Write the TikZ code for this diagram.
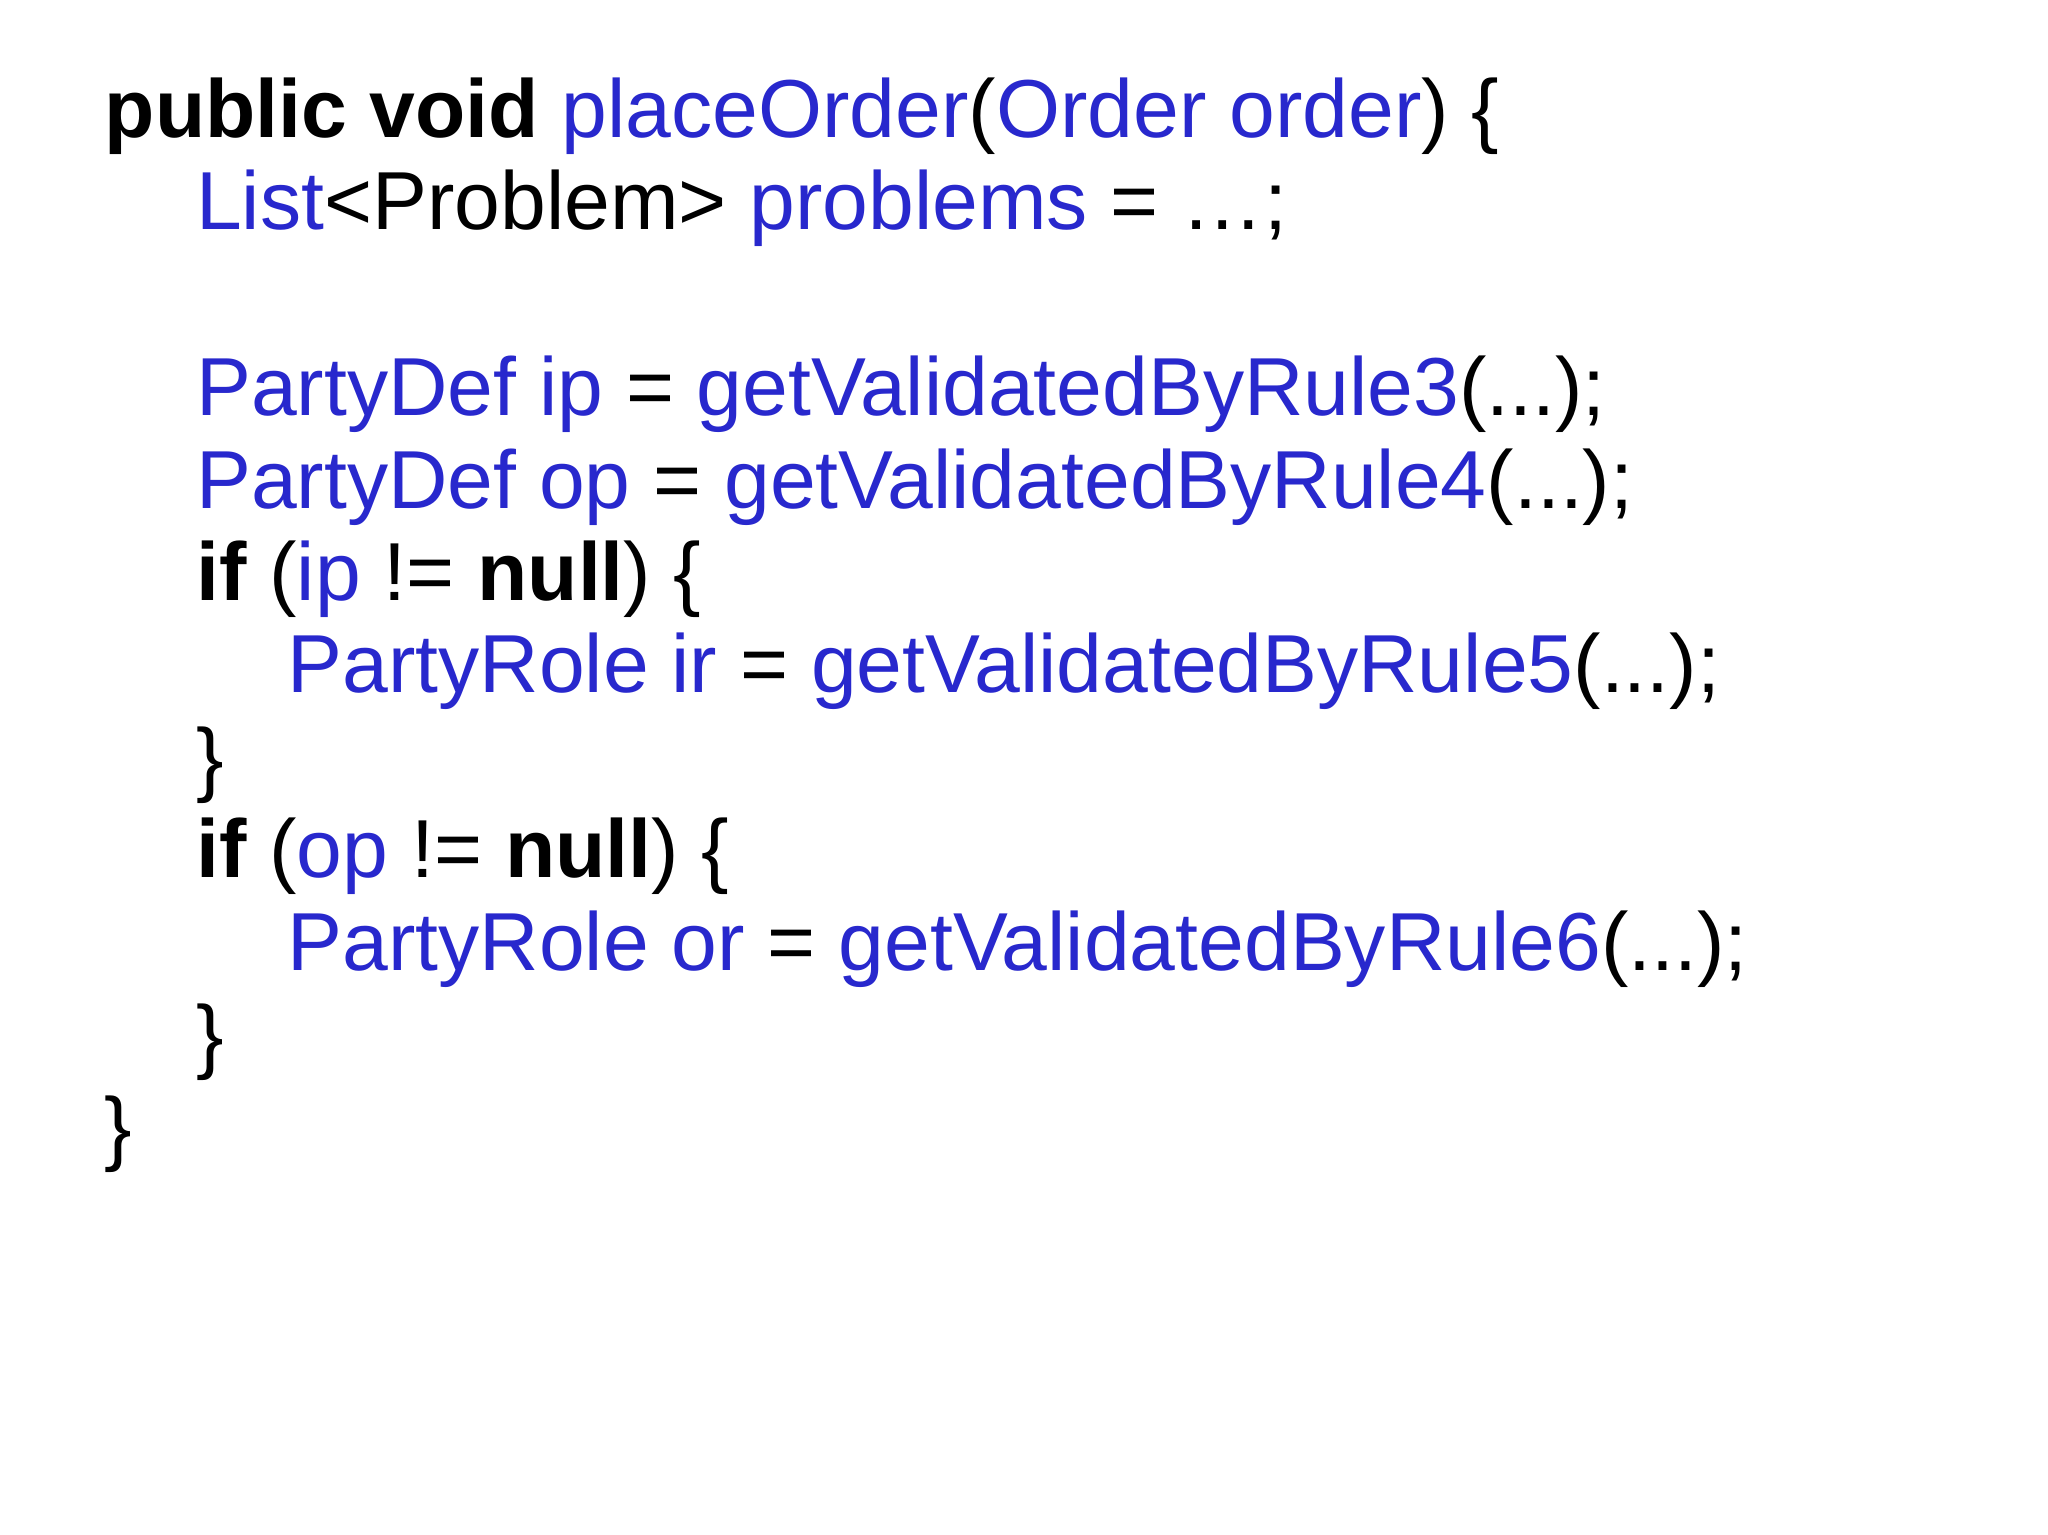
\documentclass[tikz,border=0pt]{standalone}
\usepackage{fontspec}
\setmainfont{Liberation Sans}
\definecolor{kw}{RGB}{40,40,205}
\newcommand{\bl}[1]{\textcolor{kw}{#1}}
\tikzset{codeline/.style={anchor=base west,inner sep=0pt,font=\fontsize{63pt}{63pt}\selectfont}}
\begin{document}
\begin{tikzpicture}[x=1pt,y=1pt]
\useasboundingbox (0,0) rectangle (1568,-1175);
\fill[white] (0,0) rectangle (1568,-1175);
\node[codeline] (l1) at (80,-105) {\textbf{public void} \bl{placeOrder}(\bl{Order order}) \{};
\node[codeline] (l2) at (150,-176) {\bl{List}<Problem> \bl{problems} = …;};
\node[codeline] (l3) at (150,-318) {\bl{PartyDef ip} = \bl{getValidatedByRule3}(...);};
\node[codeline] (l4) at (150,-389) {\bl{PartyDef op} = \bl{getValidatedByRule4}(...);};
\node[codeline] (l5) at (150,-460) {\textbf{if} (\bl{ip} != \textbf{null}) \{};
\node[codeline] (l6) at (220,-530) {\bl{PartyRole ir} = \bl{getValidatedByRule5}(...);};
\node[codeline] (l7) at (150,-602) {\}};
\node[codeline] (l8) at (150,-672) {\textbf{if} (\bl{op} != \textbf{null}) \{};
\node[codeline] (l9) at (220,-743) {\bl{PartyRole or} = \bl{getValidatedByRule6}(...);};
\node[codeline] (l10) at (150,-814) {\}};
\node[codeline] (l11) at (80,-885) {\}};
\end{tikzpicture}
\end{document}
